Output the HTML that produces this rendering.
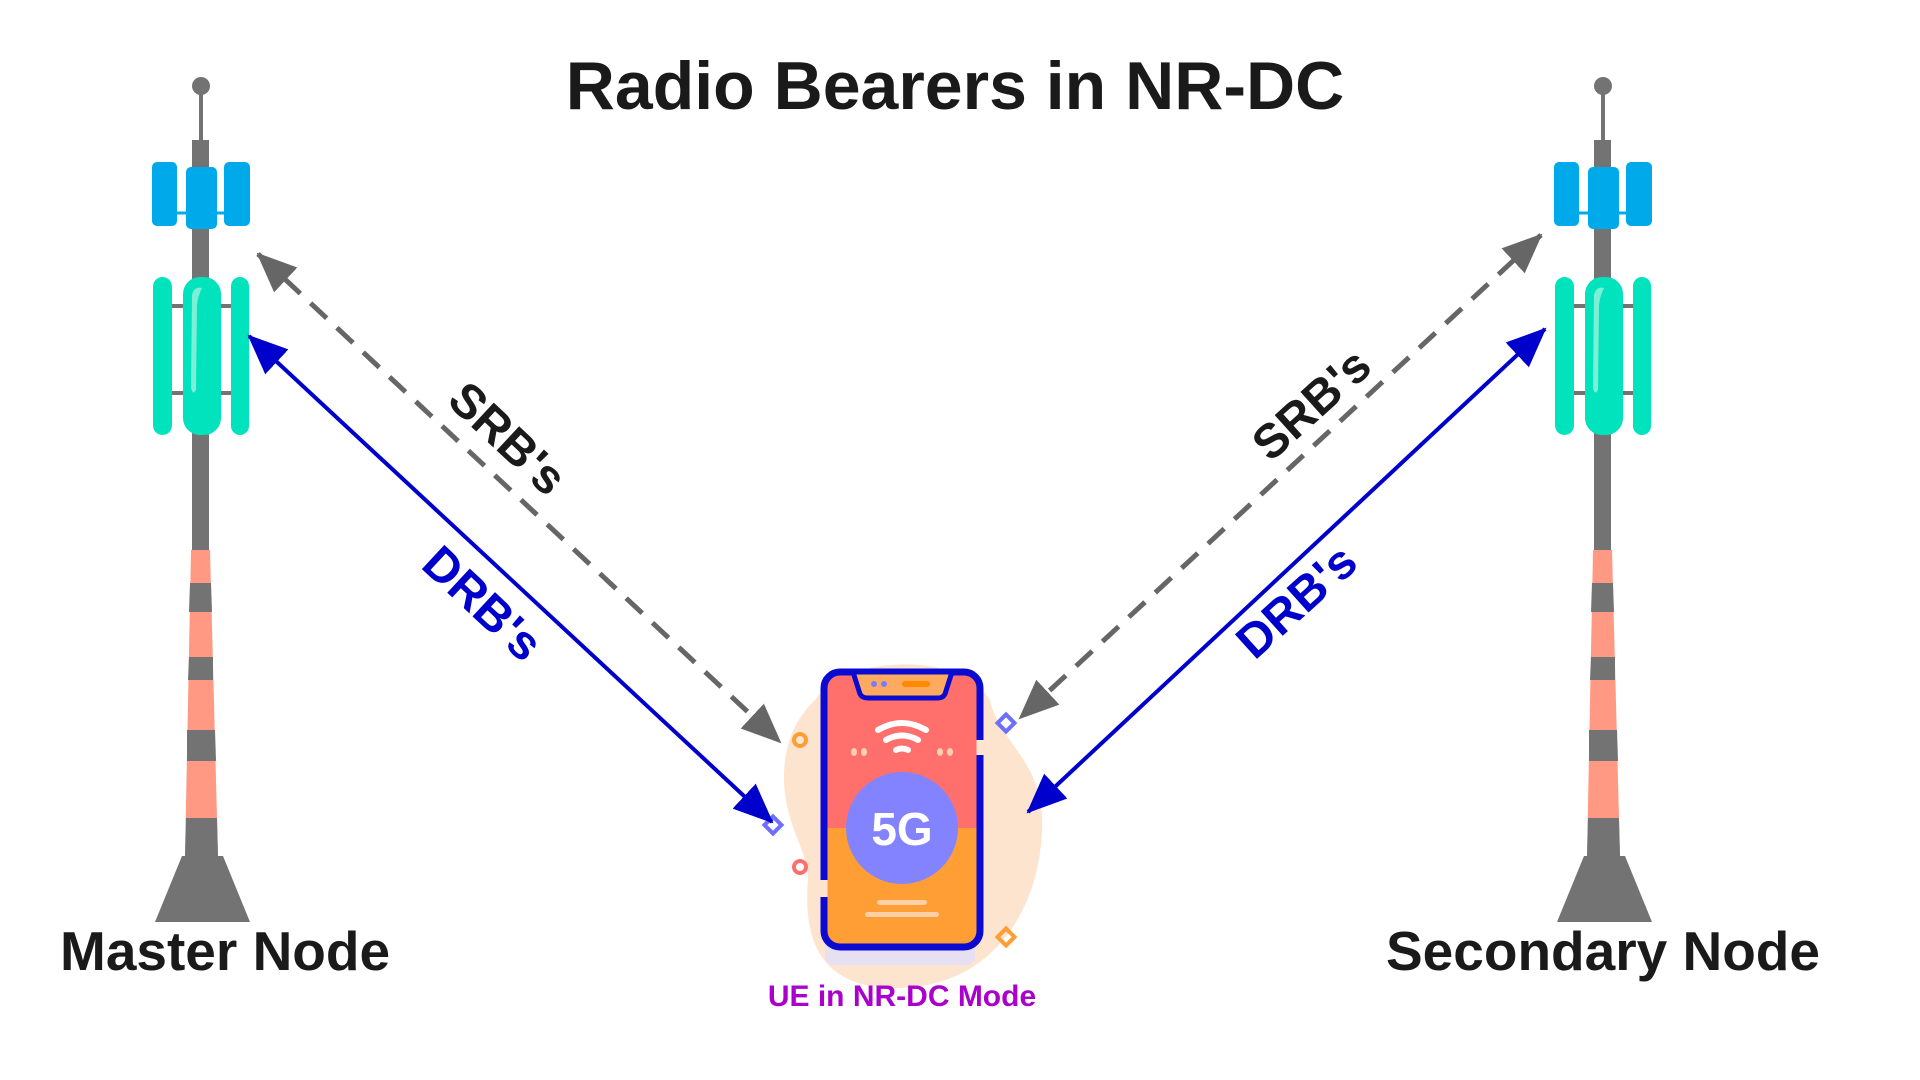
<!DOCTYPE html>
<html><head><meta charset="utf-8"><style>
html,body{margin:0;padding:0;background:#fff;}
svg{display:block;}
text{font-family:"Liberation Sans",sans-serif;font-weight:bold;}
</style></head><body>
<svg width="1920" height="1080" viewBox="0 0 1920 1080" xmlns="http://www.w3.org/2000/svg">
<defs>
<marker id="ag" markerUnits="userSpaceOnUse" markerWidth="40" markerHeight="34" viewBox="0 0 40 34" refX="38" refY="17" orient="auto-start-reverse"><path d="M0,0 L40,17 L0,34 z" fill="#666"/></marker>
<marker id="ab" markerUnits="userSpaceOnUse" markerWidth="40" markerHeight="34" viewBox="0 0 40 34" refX="38" refY="17" orient="auto-start-reverse"><path d="M0,0 L40,17 L0,34 z" fill="#0000cc"/></marker>
<g id="tower">
  <line x1="201" y1="86" x2="201" y2="142" stroke="#737373" stroke-width="4"/>
  <circle cx="201" cy="86" r="9" fill="#737373"/>
  <rect x="192" y="140" width="17" height="412" fill="#737373"/>
  <line x1="165" y1="213" x2="238" y2="213" stroke="#00aaea" stroke-width="3"/>
  <rect x="152" y="162" width="25" height="64" rx="5" fill="#00aaea"/>
  <rect x="186" y="167" width="31" height="62" rx="5" fill="#00aaea"/>
  <rect x="224" y="162" width="26" height="64" rx="5" fill="#00aaea"/>
  <line x1="165" y1="306" x2="240" y2="306" stroke="#737373" stroke-width="4"/>
  <line x1="165" y1="393" x2="240" y2="393" stroke="#737373" stroke-width="4"/>
  <rect x="153" y="277" width="19" height="158" rx="9.5" fill="#00e3bd"/>
  <rect x="231" y="277" width="18" height="158" rx="9" fill="#00e3bd"/>
  <rect x="183" y="277" width="38" height="158" rx="17" fill="#00e3bd"/>
  <path d="M192,295 Q194,286 202,288 Q198,296 197,305 L196,390 Q193,396 191,388 Z" fill="#7af0d6"/>
  <polygon points="191,550 210,550 218,856 185,856" fill="#ff9983"/>
  <polygon points="190,583 211,583 212,612 189,612" fill="#737373"/>
  <polygon points="189,657 213,657 213,680 188,680" fill="#737373"/>
  <polygon points="187,730 215,730 216,761 187,761" fill="#737373"/>
  <polygon points="186,818 217,818 218,856 185,856" fill="#737373"/>
  <polygon points="182,856 223,856 250,922 155,922" fill="#737373"/>
</g>
</defs>
<use href="#tower"/>
<use href="#tower" transform="translate(1402,0)"/>

<text x="955" y="109" font-size="68" fill="#1a1a1a" text-anchor="middle">Radio Bearers in NR-DC</text>
<text x="60" y="970" font-size="55" fill="#1a1a1a">Master Node</text>
<text x="1603" y="970" font-size="55" fill="#1a1a1a" text-anchor="middle">Secondary Node</text>

<path d="M815,700 C845,655 960,650 990,700 C1000,745 1045,760 1042,830 C1040,900 1000,985 900,988 C820,990 803,940 808,880 C810,850 778,820 785,760 C790,730 800,715 815,700 Z" fill="#fde4cf"/>
<rect x="825" y="935" width="150" height="30" rx="8" fill="#e6e0f2"/>
<clipPath id="pc"><rect x="824" y="672" width="156" height="275" rx="16"/></clipPath>
<g clip-path="url(#pc)">
  <rect x="820" y="665" width="170" height="163" fill="#ff6f6c"/>
  <rect x="820" y="828" width="170" height="125" fill="#ff9e35"/>
</g>
<rect x="824" y="672" width="156" height="275" rx="16" fill="none" stroke="#0a0ad0" stroke-width="7"/>
<rect x="819" y="880" width="8.5" height="17" fill="#fde4cf"/>
<rect x="976.5" y="740" width="8.5" height="15" fill="#fde4cf"/>
<path d="M853,672 L860,694 Q862,698 868,698 L938,698 Q943,698 945,694 L952,672 Z" fill="#ffaa60" stroke="#0a0ad0" stroke-width="5" stroke-linejoin="round"/>
<circle cx="874" cy="684" r="3" fill="#7a7aff"/><circle cx="884" cy="684" r="3" fill="#7a7aff"/>
<rect x="902" y="681" width="28" height="6" rx="3" fill="#ff8a00"/>
<g fill="none" stroke="#fff" stroke-width="6" stroke-linecap="round">
  <path d="M878,730 Q902,716 926,730"/>
  <path d="M886,740 Q902,731 918,740"/>
  <path d="M896,750 Q902,747 908,750"/>
</g>
<g fill="#ffd0b0"><ellipse cx="854" cy="752" rx="3" ry="4"/><ellipse cx="864" cy="752" rx="3" ry="4"/><ellipse cx="940" cy="752" rx="3" ry="4"/><ellipse cx="950" cy="752" rx="3" ry="4"/></g>
<circle cx="902" cy="828" r="56" fill="#8383ff"/>
<text x="902" y="845" font-size="46" fill="#fff" text-anchor="middle">5G</text>
<rect x="877" y="900" width="50" height="5" rx="2.5" fill="#ffd0a8"/>
<rect x="865" y="912" width="74" height="5" rx="2.5" fill="#ffd0a8"/>
<circle cx="800" cy="740" r="6" fill="none" stroke="#ff9e35" stroke-width="4"/>
<circle cx="800" cy="867" r="6" fill="none" stroke="#ff6f6c" stroke-width="4"/>
<rect x="767" y="819" width="12" height="12" fill="none" stroke="#6e6eff" stroke-width="4" transform="rotate(45 773 825)"/>
<rect x="1000" y="717" width="12" height="12" fill="none" stroke="#6e6eff" stroke-width="4" transform="rotate(45 1006 723)"/>
<rect x="1000" y="931" width="12" height="12" fill="none" stroke="#ff9e35" stroke-width="4" transform="rotate(45 1006 937)"/>
<text x="902" y="1006" font-size="30" fill="#aa00cc" text-anchor="middle">UE in NR-DC Mode</text>

<line x1="258" y1="254" x2="780" y2="742" stroke="#666" stroke-width="5" stroke-dasharray="22 14" marker-start="url(#ag)" marker-end="url(#ag)"/>
<line x1="249" y1="336" x2="772" y2="822" stroke="#0000cc" stroke-width="4" marker-start="url(#ab)" marker-end="url(#ab)"/>
<line x1="1541" y1="235" x2="1020" y2="718" stroke="#666" stroke-width="5" stroke-dasharray="22 14" marker-start="url(#ag)" marker-end="url(#ag)"/>
<line x1="1545" y1="329" x2="1028" y2="812" stroke="#0000cc" stroke-width="4" marker-start="url(#ab)" marker-end="url(#ab)"/>

<text x="0" y="0" font-size="48" fill="#1a1a1a" text-anchor="middle" dominant-baseline="central" transform="translate(507,439) rotate(43)">SRB's</text>
<text x="0" y="0" font-size="48" fill="#0000cc" text-anchor="middle" dominant-baseline="central" transform="translate(482,604) rotate(43)">DRB's</text>
<text x="0" y="0" font-size="48" fill="#1a1a1a" text-anchor="middle" dominant-baseline="central" transform="translate(1312,405) rotate(-42)">SRB's</text>
<text x="0" y="0" font-size="48" fill="#0000cc" text-anchor="middle" dominant-baseline="central" transform="translate(1297,602) rotate(-42)">DRB's</text>
</svg>
</body></html>
